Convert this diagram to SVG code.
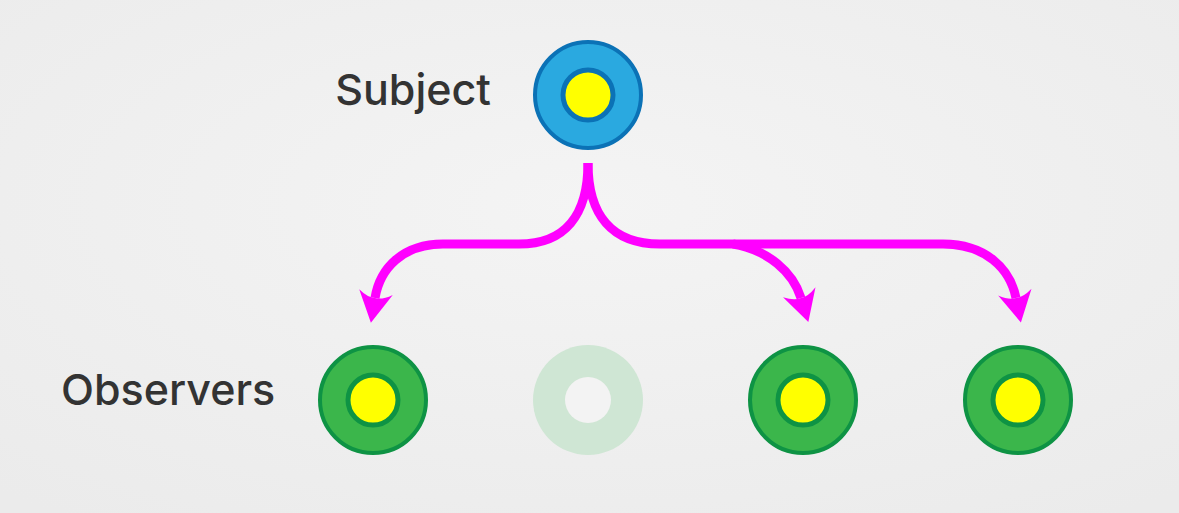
<svg xmlns="http://www.w3.org/2000/svg" width="1179" height="513" viewBox="0 0 1179 513">
<defs>
<radialGradient id="bg" cx="50%" cy="40%" r="75%">
<stop offset="0" stop-color="#f4f4f4"/>
<stop offset="1" stop-color="#ebebeb"/>
</radialGradient>
<marker id="ah" markerUnits="userSpaceOnUse" markerWidth="40" markerHeight="40" viewBox="-2 -20 36 40" refX="6" refY="0" orient="auto">
<path d="M31,0 L0,-17 Q7,-7 6,0 Q7,7 0,17 Z" fill="#ff00ff"/>
</marker>
<style>
.lbl{font-family:Inter,"Liberation Sans",sans-serif;font-size:43px;font-weight:500;fill:#333333}
.conn{fill:none;stroke:#ff00ff;stroke-width:9;marker-end:url(#ah)}
.subj-o{fill:#2aa9e0;stroke:#0b72b6;stroke-width:4}
.subj-i{fill:#ffff00;stroke:#0b72b6;stroke-width:5}
.obs-o{fill:#3bb64b;stroke:#0e9344;stroke-width:4}
.obs-i{fill:#ffff00;stroke:#0e9344;stroke-width:5}
</style>
</defs>
<rect width="1179" height="513" fill="url(#bg)"/>
<g id="connectors">
<path class="conn" d="M588,163 C588,215 565,244 519,244 L443,244 C403,244 380,268 375,298"/>
<path class="conn" d="M588,163 C588,215 612,244 660,244 L943,244 C985,244 1010,268 1016,298"/>
<path class="conn" d="M733,244 C768,250 793,272 801,298"/>
</g>
<g id="subject">
<text class="lbl" x="491" y="105" text-anchor="end">Subject</text>
<circle class="subj-o" cx="588" cy="95" r="53"/>
<circle class="subj-i" cx="588" cy="95" r="25"/>
</g>
<g id="observers-label">
<text class="lbl" x="61" y="405">Observers</text>
</g>
<g id="observer1">
<circle class="obs-o" cx="373" cy="400" r="53"/>
<circle class="obs-i" cx="373" cy="400" r="25"/>
</g>
<g id="observer2">
<circle cx="588" cy="400" r="55" fill="#cfe6d4"/>
<circle cx="588" cy="400" r="23" fill="#f3f3f3"/>
</g>
<g id="observer3">
<circle class="obs-o" cx="803" cy="400" r="53"/>
<circle class="obs-i" cx="803" cy="400" r="25"/>
</g>
<g id="observer4">
<circle class="obs-o" cx="1018" cy="400" r="53"/>
<circle class="obs-i" cx="1018" cy="400" r="25"/>
</g>
</svg>
